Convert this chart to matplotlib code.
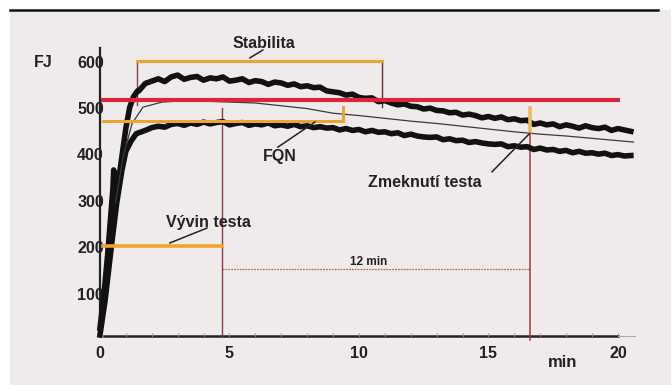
import numpy as np
import matplotlib.pyplot as plt
from matplotlib.patches import Rectangle

plt.rcParams['font.family'] = ['Liberation Sans', 'DejaVu Sans']

# farinograf - krivky konzistence (FJ) v case (min)
t_rise_up = [0, 0.15, 0.3, 0.4, 0.5, 0.53, 0.58, 0.7, 0.85, 1.0, 1.15, 1.3, 1.45]
v_rise_up = [30, 100, 190, 260, 330, 370, 290, 340, 400, 460, 505, 528, 540]
t_rise_lo = [0, 0.2, 0.45, 0.65, 0.85, 1.0, 1.2, 1.4]
v_rise_lo = [15, 90, 210, 300, 370, 410, 432, 448]

# od 1.5 min po 0.25 min
v_up = [540, 556, 561, 566, 560, 570, 574, 565, 569, 571, 563, 568, 566, 570,
        561, 563, 566, 558, 562, 560, 554, 559, 557, 552, 555, 549, 551, 547,
        548, 540, 538, 536, 531, 533, 526, 524, 525, 517, 519, 514, 510, 512,
        507, 506, 501, 503, 498, 497, 493, 494, 488, 490, 487, 482, 485, 481,
        484, 478, 480, 476, 477, 468, 471, 467, 469, 463, 467, 464, 460, 465,
        461, 459, 462, 455, 459, 456, 453]
v_lo = [450, 455, 461, 464, 462, 468, 470, 466, 471, 468, 473, 469, 472, 474,
        467, 470, 472, 466, 469, 467, 471, 465, 467, 464, 468, 463, 465, 461,
        463, 460, 461, 456, 459, 455, 457, 452, 455, 451, 452, 448, 450, 444,
        447, 443, 441, 440, 441, 435, 437, 433, 434, 429, 431, 428, 426, 425,
        426, 420, 422, 419, 420, 414, 417, 413, 414, 410, 412, 407, 410, 406,
        407, 404, 406, 401, 403, 400, 401]

t_mid = [0.6, 0.9, 1.24, 1.66, 2.4, 3, 4, 5, 6, 7, 8, 9, 10, 11, 12, 13, 14,
         15, 16, 17, 18, 19, 20, 20.6]
v_mid = [300, 400, 470, 505, 516, 518, 518, 516, 514, 508, 502, 492, 487, 481,
         475, 470, 464, 458, 452, 447, 443, 438, 433, 430]

stab_start, stab_end, stab_level = 1.43, 10.9, 605
vyvin = 4.7          # vyvin testa
zmek = 16.6          # zmeknuti testa
fqn_level, fqn_end = 475, 9.4
line_500 = 520
y_ticks = [100, 200, 300, 400, 500, 600]
x_ticks = [0, 5, 10, 15, 20]

t_main = np.linspace(1.5, 20.5, len(v_up))
t_main_lo = np.linspace(1.5, 20.5, len(v_lo))

fig = plt.figure(figsize=(6.71, 3.85), dpi=100)
ax = fig.add_axes([0, 0, 1, 1])
ax.set_xlim(-3.86, 22.05)
ax.set_ylim(-92.5, 735.5)
ax.axis('off')
fig.patch.set_facecolor('white')

# papir
ax.add_patch(Rectangle((-3.47, -92.5), 26, 806, facecolor='#efebea',
                       edgecolor='none', zorder=0))
ax.plot([-3.47, 21.55], [714, 714], color='#111111', lw=1.8, zorder=1)

ink = '#222222'
orange = '#f0a335'
red = '#d9263a'
maroon = '#8c3a48'

# osy
ax.plot([0, 0], [13, 632], color=ink, lw=1.6, zorder=3)
ax.plot([0.15, 20], [13, 13], color=ink, lw=1.8, zorder=3)
ax.plot([20, 20.65], [13, 13], color='#aaaaaa', lw=0.8, zorder=3)
for m in range(1, 21):
    ax.plot([m, m], [13, 19], color='#999999', lw=0.6, zorder=3)

for v in y_ticks:
    ax.text(0.15, v, str(v), ha='right', va='center', fontsize=11.5,
            fontweight='bold', color=ink, zorder=2)
for m in x_ticks:
    ax.text(m, -24, str(m), ha='center', va='center', fontsize=11.5,
            fontweight='bold', color=ink)
ax.text(-2.2, 602, 'FJ', ha='center', va='center', fontsize=11.5,
        fontweight='bold', color=ink)
ax.text(17.88, -45, 'min', ha='center', va='center', fontsize=12,
        fontweight='bold', color=ink)

# krivky
ax.plot(t_rise_up + list(t_main), v_rise_up + v_up, color='#111111',
        lw=4.0, solid_joinstyle='round', zorder=5)
ax.plot(t_rise_lo + list(t_main_lo), v_rise_lo + v_lo, color='#111111',
        lw=4.0, solid_joinstyle='round', zorder=5)
ax.plot(t_mid, v_mid, color='#3a3a3a', lw=0.9, zorder=5)

# vodorovne cary
ax.plot([0.12, 20], [line_500, line_500], color=red, lw=3.0, zorder=6)
ax.plot([stab_start, stab_end], [stab_level, stab_level], color=orange,
        lw=2.2, zorder=6)
ax.plot([0.12, fqn_end], [fqn_level, fqn_level], color=orange, lw=2.2,
        zorder=6)
ax.plot([fqn_end, fqn_end], [fqn_level, 505], color=orange, lw=2.2, zorder=6)
ax.plot([0.12, vyvin], [206, 206], color=orange, lw=2.6, zorder=6)
ax.plot([vyvin, zmek], [157, 157], color='#c0703a', lw=0.9,
        ls=(0, (1.5, 0.8)), zorder=4)

# svisle cary
ax.plot([stab_start, stab_start], [stab_level, 510], color=maroon, lw=1.0,
        zorder=4)
ax.plot([stab_end, stab_end], [stab_level, 505], color='#5a3030', lw=1.0,
        zorder=4)
ax.plot([vyvin, vyvin], [503, 13], color=maroon, lw=1.0, zorder=4)
ax.plot([zmek, zmek], [503, 5], color='#b03040', lw=1.1, zorder=4)
ax.plot([zmek, zmek], [503, 452], color='#f2b860', lw=2.6, zorder=6)

# popisky
lab = dict(ha='center', va='center', fontsize=11.5, fontweight='bold',
           color=ink, zorder=7)
ax.text(6.33, 643, 'Stabilita', **lab)
ax.plot([5.79, 6.29], [611, 628], color=ink, lw=1.1, zorder=7)
ax.text(6.95, 398, 'FQN', **lab)
ax.plot([6.87, 8.3], [419, 473], color=ink, lw=1.1, zorder=7)
ax.text(12.55, 342, 'Zmeknutí testa', **lab)
ax.plot([15.14, 16.6], [366, 449], color=ink, lw=1.1, zorder=7)
ax.text(4.2, 258, 'Vývin testa', **lab)
ax.plot([2.7, 4.13], [213, 245], color=ink, lw=1.1, zorder=7)
ax.text(10.39, 172, '12 min', ha='center', va='center', fontsize=8.5,
        fontweight='bold', color=ink, zorder=7)

fig.savefig('out.png', dpi=100)
